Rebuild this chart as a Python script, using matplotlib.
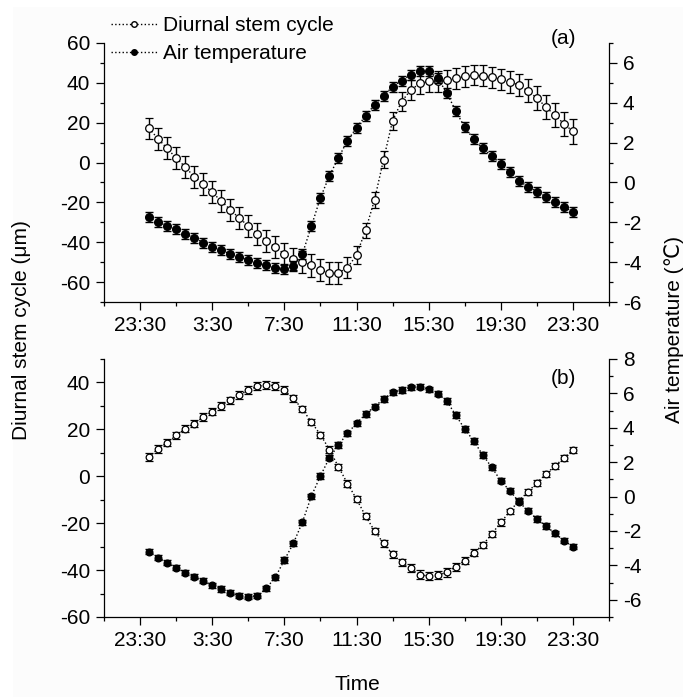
import matplotlib
matplotlib.use('Agg')
import matplotlib.pyplot as plt
from matplotlib.lines import Line2D
from matplotlib.patches import Rectangle
import numpy as np

plt.rcParams['font.family'] = ['Liberation Sans', 'DejaVu Sans']
plt.rcParams['font.size'] = 15
plt.rcParams['axes.unicode_minus'] = False

# time in hours after 0:00, one point every 30 min
hours = np.arange(48) * 0.5
tick_pos = [-0.5, 3.5, 7.5, 11.5, 15.5, 19.5, 23.5]
tick_labels = ['23:30', '3:30', '7:30', '11:30', '15:30', '19:30', '23:30']

# (a) diurnal stem cycle (um) and air temperature (C)
stem_a = [17.1, 11.9, 7.1, 2.3, -2.2, -7.1, -10.8, -15.0, -19.3, -23.7, -27.9, -31.8,
          -35.7, -39.2, -42.5, -45.9, -48.4, -49.8, -51.6, -54.1, -55.3, -55.3, -52.8, -46.4,
          -34.1, -18.7, 1.5, 21.0, 30.6, 36.3, 39.7, 40.7, 40.7, 41.2, 42.3, 43.2,
          43.9, 43.5, 42.9, 41.8, 40.5, 38.8, 36.0, 32.4, 27.9, 23.7, 19.5, 15.6]
stem_a_err = [5.5, 5.6, 5.5, 5.5, 5.4, 5.5, 5.6, 5.5, 5.5, 5.6, 5.5, 5.5,
              5.6, 5.5, 5.4, 5.5, 5.6, 5.6, 5.7, 5.6, 5.6, 5.6, 5.3, 4.5,
              4.0, 4.0, 4.2, 4.5, 4.8, 5.0, 5.1, 5.2, 5.2, 5.2, 5.2, 5.2,
              5.2, 5.3, 5.3, 5.4, 5.5, 5.6, 5.7, 5.8, 5.9, 6.0, 6.0, 6.1]
temp_a = [-1.75, -2.0, -2.17, -2.35, -2.6, -2.77, -3.02, -3.22, -3.39, -3.59, -3.73, -3.89,
          -4.04, -4.16, -4.28, -4.33, -4.19, -3.59, -2.19, -0.77, 0.34, 1.24, 2.10, 2.75,
          3.34, 3.90, 4.34, 4.81, 5.11, 5.39, 5.59, 5.59, 5.23, 4.51, 3.59, 2.77,
          2.17, 1.71, 1.33, 0.93, 0.52, 0.09, -0.21, -0.46, -0.72, -0.97, -1.22, -1.48]
temp_a_err = [0.25] * 48

# (b)
stem_b = [8.3, 11.7, 14.3, 17.4, 20.3, 22.4, 25.3, 27.6, 30.0, 32.4, 34.6, 36.7,
          38.3, 39.0, 38.6, 36.7, 33.2, 28.6, 23.1, 17.7, 11.4, 4.0, -3.1, -9.7,
          -16.9, -23.3, -28.6, -33.2, -36.7, -39.3, -41.9, -42.6, -42.2, -41.0, -38.6, -36.0,
          -32.6, -29.3, -24.6, -19.7, -15.0, -10.4, -6.7, -2.8, 1.0, 4.3, 7.9, 11.1]
stem_b_err = [1.8, 1.6, 1.6, 1.6, 1.5, 1.5, 1.6, 1.6, 1.6, 1.6, 1.7, 1.7,
              1.7, 1.7, 1.7, 1.6, 1.5, 1.4, 1.4, 1.3, 1.3, 1.3, 1.3, 1.3,
              1.3, 1.3, 1.4, 1.5, 1.6, 1.7, 1.8, 1.8, 1.8, 1.8, 1.7, 1.6,
              1.5, 1.4, 1.3, 1.3, 1.2, 1.2, 1.2, 1.2, 1.2, 1.2, 1.2, 1.2]
temp_b = [-3.2, -3.55, -3.84, -4.13, -4.42, -4.66, -4.89, -5.16, -5.37, -5.59, -5.76, -5.82,
          -5.76, -5.33, -4.69, -3.69, -2.72, -1.49, 0.03, 1.20, 2.26, 3.0, 3.68, 4.26,
          4.80, 5.23, 5.67, 6.06, 6.2, 6.35, 6.39, 6.24, 5.97, 5.56, 4.74, 3.93,
          3.23, 2.42, 1.70, 0.92, 0.34, -0.30, -0.82, -1.30, -1.71, -2.13, -2.56, -2.91]
temp_b_err = [0.15] * 48

W, H = 683, 697
fig = plt.figure(figsize=(W / 100, H / 100), dpi=100, facecolor='white')
fig.patches.append(Rectangle((13 / W, 0), 1, 1 - 7 / H, transform=fig.transFigure,
                             facecolor='#fcfcfc', edgecolor='none', zorder=-10))

left, width = 104 / W, (609 - 104) / W
ax_a = fig.add_axes([left, 1 - 302 / H, width, (302 - 43) / H])
ax_b = fig.add_axes([left, 1 - 617 / H, width, (617 - 359) / H])


def style_panel(ax, ax2):
    for a in (ax, ax2):
        a.set_facecolor('none')
        a.spines['top'].set_visible(False)
        for s in a.spines.values():
            s.set_linewidth(0.9)
        a.tick_params(which='major', direction='out', length=6, width=0.9, pad=4)
        a.tick_params(which='minor', direction='out', length=3, width=0.9)
    ax.spines['right'].set_visible(False)
    ax2.spines['left'].set_visible(False)
    ax2.spines['bottom'].set_visible(False)
    ax.set_xlim(-2.5, 25.5)
    ax.set_xticks(tick_pos)
    ax.set_xticklabels(tick_labels)
    ax.set_xticks(np.arange(-2.5, 26, 4), minor=True)


def draw(ax, ax2, stem, stem_err, temp, temp_err, ms):
    ax.errorbar(hours, stem, yerr=stem_err, fmt='o', ls=':', color='k', lw=1,
                mfc='white', mec='k', ms=ms, mew=0.9, capsize=3, elinewidth=1, capthick=1)
    ax2.errorbar(hours, temp, yerr=temp_err, fmt='o', ls=':', color='k', lw=1,
                 mfc='k', mec='k', ms=ms, capsize=3, elinewidth=1, capthick=1)


# panel (a)
ax_a2 = ax_a.twinx()
draw(ax_a, ax_a2, stem_a, stem_a_err, temp_a, temp_a_err, 5.5)
style_panel(ax_a, ax_a2)
ax_a.set_ylim(-70, 60)
ax_a.set_yticks(np.arange(-60, 61, 20))
ax_a.set_yticks(np.arange(-70, 61, 10), minor=True)
ax_a2.set_ylim(-6, 7)
ax_a2.set_yticks(np.arange(-6, 7, 2))
ax_a2.set_yticks(np.arange(-6, 8, 1), minor=True)

# panel (b)
ax_b2 = ax_b.twinx()
draw(ax_b, ax_b2, stem_b, stem_b_err, temp_b, temp_b_err, 4.8)
style_panel(ax_b, ax_b2)
ax_b.set_ylim(-60, 50)
ax_b.set_yticks(np.arange(-60, 41, 20))
ax_b.set_yticks(np.arange(-60, 51, 10), minor=True)
ax_b2.set_ylim(-7, 8)
ax_b2.set_yticks(np.arange(-6, 9, 2))
ax_b2.set_yticks(np.arange(-7, 9, 1), minor=True)

fig.text(563 / W, 1 - 38 / H, '(a)', ha='center', va='center')
fig.text(563 / W, 1 - 378 / H, '(b)', ha='center', va='center')

handles = [Line2D([], [], ls=':', lw=1, color='k', marker='o', mfc='white', mec='k', ms=4),
           Line2D([], [], ls=':', lw=1, color='k', marker='o', mfc='k', mec='k', ms=4)]
fig.legend(handles, ['Diurnal stem cycle', 'Air temperature'], loc='upper left',
           bbox_to_anchor=(111 / W, 1 - 16 / H), frameon=False, borderpad=0,
           borderaxespad=0, handlelength=2.2, handletextpad=0.3, labelspacing=0.45)

fig.text(22 / W, 1 - 330 / H, 'Diurnal stem cycle (μm)', rotation=90,
         ha='center', va='center')
fig.text(664 / W, 1 - 330 / H, 'Air temperature (℃)', rotation=90,
         ha='left', va='center')
fig.text(357 / W, 1 - 685 / H, 'Time', ha='center', va='center')

fig.savefig('out.png', dpi=100, facecolor=fig.get_facecolor())
